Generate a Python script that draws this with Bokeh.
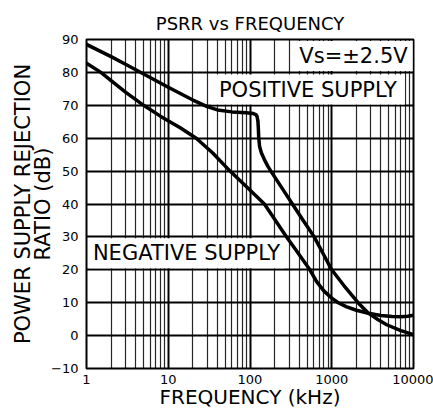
from bokeh.plotting import figure
from bokeh.models import FixedTicker, Grid, Label, PrintfTickFormatter, Title
from bokeh.embed import file_html
from bokeh.resources import INLINE

FONT = "DejaVu Sans"

# Positive supply PSRR (dB) vs frequency (kHz)
pos_freq = [1, 2, 3, 5, 10, 20, 30, 40, 60, 90, 110, 118, 122, 125, 126.5, 128,
            131, 138, 150, 165, 180, 250, 330, 450, 610, 800, 1000, 1400, 2100,
            2750, 3700, 4700, 7000, 10000]
pos_psrr = [88.5, 84.8, 82.5, 79.5, 75.5, 71.6, 69.6, 68.6, 68.0, 67.7, 67.5, 67.2,
            66.6, 65.2, 63.0, 60.0, 57.5, 55.5, 53.5, 51.5, 50.0, 44.6, 40.0, 34.9,
            30.0, 24.5, 20.0, 15.3, 10.0, 7.0, 4.8, 3.3, 1.5, 0.3]

# Negative supply PSRR (dB) vs frequency (kHz)
neg_freq = [1, 1.5, 2, 3, 5, 8, 14, 22, 35, 57, 90, 150, 210, 280, 370, 540, 650,
            800, 1000, 1200, 1500, 2000, 2800, 4000, 5500, 7000, 8500, 10000]
neg_psrr = [82.8, 80.0, 77.5, 74.0, 70.0, 66.7, 63.2, 60.0, 55.5, 50.0, 45.3, 40.0,
            34.6, 30.0, 25.8, 20.0, 16.5, 13.6, 11.4, 10.0, 8.8, 7.7, 6.8, 6.1,
            5.8, 5.7, 5.9, 6.2]

x_ticks = [1, 10, 100, 1000, 10000]
y_ticks = [-10, 0, 10, 20, 30, 40, 50, 60, 70, 80, 90]
decade_lines = [10, 100, 1000]
minor_lines = [m * d for d in (1, 10, 100, 1000) for m in range(2, 10)]
h_lines = [0, 10, 20, 30, 40, 50, 60, 70, 80]

title_text = "PSRR vs FREQUENCY"
x_label = "FREQUENCY (kHz)"
y_label_1 = "POWER SUPPLY REJECTION"
y_label_2 = "RATIO (dB)"

p = figure(width=433, height=418, x_axis_type="log",
           x_range=(1, 10000), y_range=(-10, 90),
           output_backend="svg", toolbar_location=None,
           min_border_left=86, min_border_right=20,
           min_border_top=39, min_border_bottom=50,
           background_fill_color="white", border_fill_color="white")

p.outline_line_color = "black"
p.outline_line_width = 2

p.title.text = title_text
p.title.align = "center"
p.title.offset = -3
p.title.standoff = 12
p.title.text_font = FONT
p.title.text_font_size = "18px"
p.title.text_font_style = "normal"
p.title.text_color = "black"

for ax in (p.xaxis[0], p.yaxis[0]):
    ax.axis_line_color = None
    ax.major_tick_line_color = None
    ax.minor_tick_line_color = None
    ax.major_tick_out = 0
    ax.minor_tick_out = 0
    ax.major_tick_in = 0
    ax.minor_tick_in = 0
    ax.major_label_text_font = FONT
    ax.major_label_text_font_size = "13px"
    ax.major_label_text_color = "black"

p.xaxis.major_label_standoff = 6
p.yaxis.major_label_standoff = 8
p.xaxis.ticker = FixedTicker(ticks=x_ticks)
p.xaxis.formatter = PrintfTickFormatter(format="%d")
p.yaxis.ticker = FixedTicker(ticks=y_ticks)

p.xaxis.axis_label = x_label
p.xaxis.axis_label_standoff = -2
p.xaxis.axis_label_text_font = FONT
p.xaxis.axis_label_text_font_size = "20px"
p.xaxis.axis_label_text_font_style = "normal"
p.xaxis.axis_label_text_color = "black"

for txt, so, off in ((y_label_2, -13, -7), (y_label_1, 2, -9)):
    p.add_layout(Title(text=txt, align="center", offset=off, standoff=so,
                       text_font=FONT, text_font_size="21px",
                       text_font_style="normal", text_color="black"), "left")

p.xgrid.ticker = FixedTicker(ticks=decade_lines)
p.xgrid.grid_line_color = "black"
p.xgrid.grid_line_width = 2
p.ygrid.ticker = FixedTicker(ticks=h_lines)
p.ygrid.grid_line_color = "black"
p.ygrid.grid_line_width = 2

minor_grid = Grid(dimension=0, ticker=FixedTicker(ticks=minor_lines),
                  grid_line_color="black", grid_line_width=1.2, grid_line_alpha=0.85)
p.add_layout(minor_grid)

# annotations inside the plot (white boxes hide the grid behind the text)
labels = [
    ("Vs=\u00b12.5V", 1845, 85.0, dict(left=5, right=5, top=3, bottom=3)),
    ("POSITIVE SUPPLY", 510, 74.8, dict(left=8, right=8, top=3, bottom=3)),
    ("NEGATIVE SUPPLY", 16.7, 25.0, dict(left=4, right=4, top=3, bottom=3)),
]
for txt, lx, ly, pad in labels:
    lab = Label(x=lx, y=ly, text=txt, text_align="center", text_baseline="middle",
                text_font=FONT, text_font_size="21px", text_color="black",
                background_fill_color="white", padding=pad, level="underlay")
    p.add_layout(lab)

p.line(pos_freq, pos_psrr, line_width=3.5, color="black",
       line_join="round", line_cap="round")
p.line(neg_freq, neg_psrr, line_width=3.5, color="black",
       line_join="round", line_cap="round")

open("out.html", "w").write(file_html(p, INLINE))
